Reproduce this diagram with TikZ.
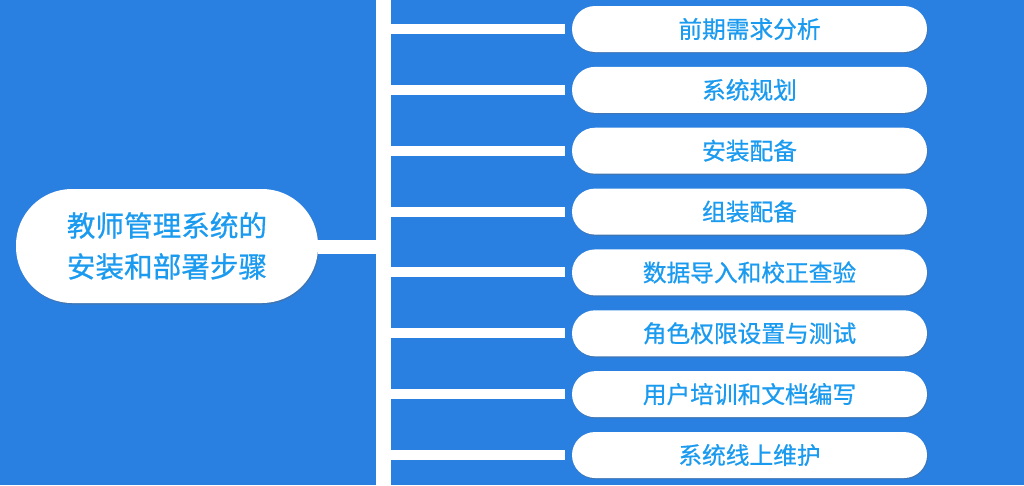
\documentclass[tikz,border=0pt]{standalone}
\usepackage{fontspec}
\newfontfamily\cjk[FakeBold=0.7]{Noto Sans CJK SC}
\usetikzlibrary{shadows}
\definecolor{bgblue}{RGB}{42,128,224}
\definecolor{txtblue}{RGB}{26,155,240}
\begin{document}
\begin{tikzpicture}[x=1pt,y=-1pt,
  leaf/.style={draw=none,fill=white,rounded corners=23pt,minimum width=355pt,minimum height=46pt,
    text=txtblue,font=\cjk\fontsize{23.7pt}{28pt}\selectfont,inner sep=0pt,
    drop shadow={shadow xshift=0.8pt,shadow yshift=-1.2pt,opacity=0.35,fill=black!60}},
  root/.style={draw=none,fill=white,rounded corners=56pt,minimum width=302pt,minimum height=114pt,
    text=txtblue,font=\cjk\fontsize{28.6pt}{41pt}\selectfont,align=center,inner sep=0pt,
    drop shadow={shadow xshift=1pt,shadow yshift=-1.5pt,opacity=0.35,fill=black!60}},
  link/.style={white,line width=10pt},
]
\fill[bgblue] (0,0) rectangle (1024,485);
\useasboundingbox (0,0) rectangle (1024,485);
% vertical trunk
\coordinate (trunkTop) at (383.5,0);
\coordinate (trunkBot) at (383.5,485);
\draw[white,line width=15pt] (trunkTop) -- (trunkBot);
% root
\node[root] (root) at (167,246) {教师管理系统的\\安装和部署步骤};
\coordinate (rootJ) at (383,247);
\draw[white,line width=14pt] (root.east |- rootJ) -- (rootJ);
% leaves
\foreach \i/\t in {0/前期需求分析,1/系统规划,2/安装配备,3/组装配备,4/数据导入和校正查验,5/角色权限设置与测试,6/用户培训和文档编写,7/系统线上维护}{
  \node[leaf] (n\i) at (749.5,29+60.86*\i) {\t};
  \coordinate (j\i) at (391,29+60.86*\i);
  \coordinate (e\i) at (565,29+60.86*\i);
  \draw[link] (j\i) -- (e\i);
}
\end{tikzpicture}
\end{document}
